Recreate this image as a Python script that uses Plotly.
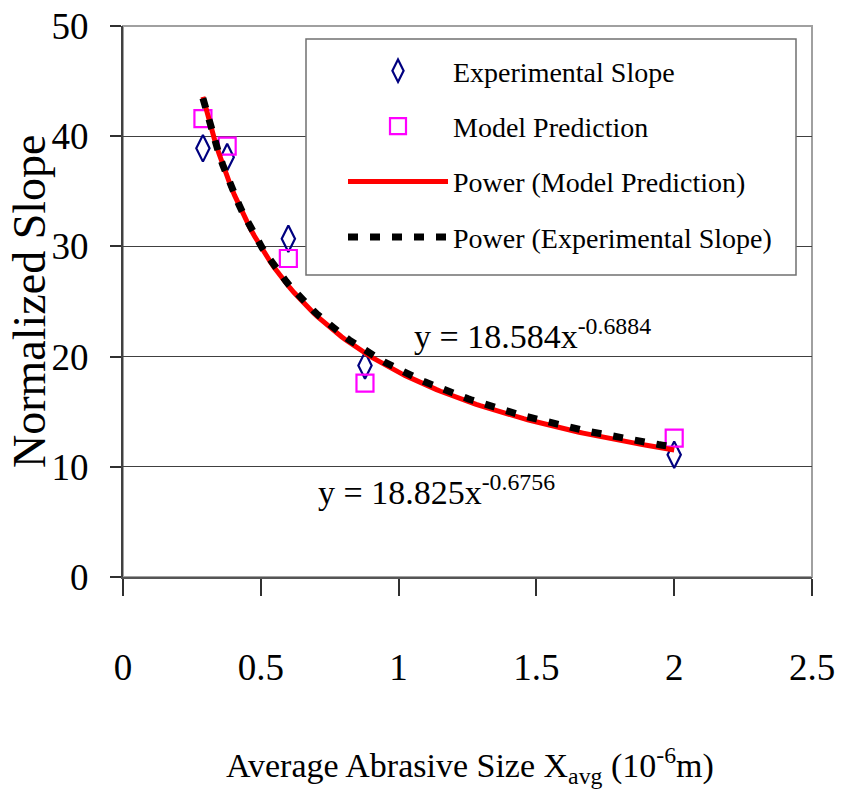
import numpy as np
import plotly.graph_objects as go

# ---- data ----
x_avg = [0.29, 0.378, 0.60, 0.878, 2.0]
experimental_slope = [38.9, 38.1, 30.7, 19.2, 11.1]
model_prediction = [41.6, 39.1, 28.9, 17.6, 12.6]

# power trendline coefficients shown on the chart: y = a * x^b
model_fit = [18.584, -0.6884]
exp_fit = [18.825, -0.6756]

x_ticks = [0, 0.5, 1, 1.5, 2, 2.5]
y_ticks = [0, 10, 20, 30, 40, 50]

SERIF = "Liberation Serif, Times New Roman, serif"

xs = np.linspace(min(x_avg), max(x_avg), 120)
model_curve = model_fit[0] * xs ** model_fit[1]
exp_curve = exp_fit[0] * xs ** exp_fit[1]

fig = go.Figure()
fig.add_trace(go.Scatter(
    x=x_avg, y=experimental_slope, mode="markers", name="Experimental Slope",
    legendgroup="a",
    marker=dict(symbol="diamond-tall-open", size=19, color="#000080",
                line=dict(width=2.2, color="#000080"))))
fig.add_trace(go.Scatter(
    x=x_avg, y=model_prediction, mode="markers", name="Model Prediction",
    legendgroup="b",
    marker=dict(symbol="square-open", size=17, color="#ff00ff",
                line=dict(width=2.2, color="#ff00ff"))))
fig.add_trace(go.Scatter(
    x=xs, y=model_curve, mode="lines", name="Power (Model Prediction)",
    legendgroup="c",
    line=dict(color="#ff0000", width=5)))
fig.add_trace(go.Scatter(
    x=xs, y=exp_curve, mode="lines", name="Power (Experimental Slope)",
    legendgroup="d",
    line=dict(color="#000000", width=7, dash="10px,12px")))

# plot-area border (light gray) and legend box
fig.add_shape(type="rect", xref="paper", yref="paper", x0=0, x1=1, y0=0, y1=1,
              line=dict(color="#a0a0a0", width=2), layer="below")
fig.add_shape(type="rect", xref="paper", yref="paper",
              x0=(306 - 123) / 689, x1=(796 - 123) / 689,
              y0=(577 - 275) / 551, y1=(577 - 39) / 551,
              line=dict(color="#707070", width=1.5), fillcolor="white", layer="above")

fig.update_layout(
    width=846, height=795,
    margin=dict(l=123, r=34, t=26, b=218, autoexpand=False),
    paper_bgcolor="white", plot_bgcolor="white",
    font=dict(family=SERIF, color="black"),
    showlegend=True,
    legend=dict(x=(343 - 123) / 689, y=(577 - 46) / 551, xanchor="left", yanchor="top",
                bgcolor="rgba(0,0,0,0)", borderwidth=0,
                font=dict(family=SERIF, size=28, color="black"),
                itemwidth=100, tracegroupgap=16, traceorder="grouped"),
    xaxis=dict(range=[0, 2.5], tickvals=x_ticks, ticktext=[str(v) for v in x_ticks],
               ticks="outside", ticklen=17, tickwidth=1.5, tickcolor="#303030",
               showline=True, linecolor="#555555", linewidth=2,
               showgrid=False, zeroline=False, automargin=False,
               tickfont=dict(family=SERIF, size=37), ticklabelstandoff=40),
    yaxis=dict(range=[0, 50], tickvals=y_ticks,
               ticks="outside", ticklen=11, tickwidth=1.5, tickcolor="#303030",
               showline=True, linecolor="#404040", linewidth=2,
               showgrid=True, gridcolor="#404040", gridwidth=1, zeroline=False,
               automargin=False,
               tickfont=dict(family=SERIF, size=37), ticklabelstandoff=14),
)

fig.add_annotation(xref="paper", yref="paper", x=(29 - 123) / 689, y=(577 - 302) / 551,
                   text="Normalized Slope", textangle=-90,
                   showarrow=False, xanchor="center", yanchor="middle",
                   font=dict(family=SERIF, size=46))
fig.add_annotation(xref="paper", yref="paper", x=(470 - 123) / 689, y=(577 - 765) / 551,
                   text="Average Abrasive Size X<sub>avg</sub> (10<sup>-6</sup>m)",
                   showarrow=False, xanchor="center", yanchor="middle",
                   font=dict(family=SERIF, size=34))
fig.add_annotation(x=1.05, y=19.95, xref="x", yref="y",
                   text="y = 18.584x<sup>-0.6884</sup>",
                   showarrow=False, xanchor="left", yanchor="bottom",
                   font=dict(family=SERIF, size=34))
fig.add_annotation(x=0.70, y=5.8, xref="x", yref="y",
                   text="y = 18.825x<sup>-0.6756</sup>",
                   showarrow=False, xanchor="left", yanchor="bottom",
                   font=dict(family=SERIF, size=34))

fig.write_html("out.html", config={"displayModeBar": False},
               post_script="document.body.style.margin='0px';")
